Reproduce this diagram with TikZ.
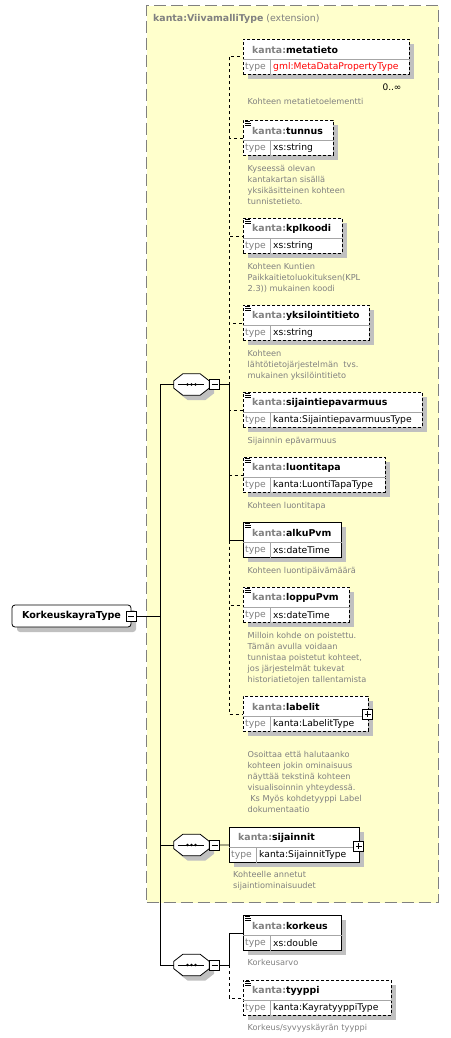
\documentclass[tikz,border=0pt]{standalone}
\usepackage{fontspec}
\setmainfont{DejaVu Sans}
\usetikzlibrary{positioning,shadows}

\definecolor{extfill}{RGB}{255,255,204}
\definecolor{extline}{RGB}{128,128,128}
\definecolor{kantagray}{RGB}{128,128,128}
\definecolor{shadowgray}{RGB}{192,192,192}
\definecolor{typered}{RGB}{255,0,0}

\tikzset{
  boxshadow/.style={drop shadow={shadow xshift=5pt, shadow yshift=-5pt, fill=shadowgray, opacity=1}},
  elbox/.style={draw, fill=white, line width=0.8pt, inner sep=0pt, minimum height=35pt, anchor=north west, boxshadow},
  optbox/.style={elbox, dash pattern=on 3pt off 2pt},
  eltitle/.style={anchor=west, inner sep=0pt, font=\fontsize{9.4}{11}\selectfont\bfseries},
  eltype/.style={anchor=west, inner sep=0pt, font=\fontsize{9.2}{11}\selectfont},
  doctext/.style={inner sep=0pt, align=left, text=kantagray, font=\fontsize{8.2}{11}\selectfont},
  rootbox/.style={draw, fill=white, line width=0.8pt, rounded corners=3pt, inner sep=0pt, boxshadow, font=\fontsize{9.6}{11}\selectfont\bfseries},
  seqbox/.style={minimum width=35pt, minimum height=21pt, inner sep=0pt},
  minusbox/.style={draw, fill=white, line width=0.7pt, minimum size=10pt, inner sep=0pt,
    path picture={\draw[black] ([xshift=2pt]path picture bounding box.west) -- ([xshift=-2pt]path picture bounding box.east);}},
  plusbox/.style={draw, fill=white, line width=0.7pt, minimum size=10pt, inner sep=0pt,
    path picture={
      \draw[black] ([xshift=2pt]path picture bounding box.west) -- ([xshift=-2pt]path picture bounding box.east);
      \draw[black] ([yshift=-2pt]path picture bounding box.north) -- ([yshift=2pt]path picture bounding box.south);
    }},
  optline/.style={dash pattern=on 3pt off 3pt},
  extframe/.style={draw=extline, fill=extfill, line width=1.2pt, dash pattern=on 12pt off 5pt, inner sep=0pt}
}

% header and type row of one element box
\newcommand{\elparts}[3]{%
  \draw[kantagray!70, line width=0.6pt] ([yshift=-20pt]#1.north west) -- ([yshift=-20pt]#1.north east);
  \draw[kantagray!70, line width=0.6pt] ([xshift=27pt,yshift=-20pt]#1.north west) -- ([xshift=27pt]#1.south west);
  \node[eltitle] at ([xshift=9pt,yshift=-10.5pt]#1.north west) {\textcolor{kantagray}{kanta:}#2};
  \node[eltype, text=kantagray] at ([xshift=2pt,yshift=-28pt]#1.north west) {type};
  \node[eltype] at ([xshift=30pt,yshift=-28pt]#1.north west) {#3};
}
% simple content mark
\newcommand{\docmark}[1]{%
  \draw[line width=0.6pt] ([xshift=2pt,yshift=-1.5pt]#1.north west) -- ++(5,0);
  \draw[line width=0.6pt] ([xshift=2pt,yshift=-3.5pt]#1.north west) -- ++(6,0);
  \draw[line width=0.6pt] ([xshift=2pt,yshift=-5.5pt]#1.north west) -- ++(6,0);
}
% octagon of a sequence compositor
\newcommand{\seqpath}[1]{([xshift=9pt]#1.north west) -- ([xshift=-9pt]#1.north east) -- ([yshift=-7pt]#1.north east) -- ([yshift=7pt]#1.south east) -- ([xshift=-9pt]#1.south east) -- ([xshift=9pt]#1.south west) -- ([yshift=7pt]#1.south west) -- ([yshift=-7pt]#1.north west) -- cycle}
\newcommand{\seqmark}[1]{%
  \begin{scope}[transform canvas={shift={(5pt,-5pt)}}]
    \fill[shadowgray] \seqpath{#1};
  \end{scope}
  \filldraw[fill=white, line width=0.8pt] \seqpath{#1};
  \draw[line width=0.8pt] ([xshift=4pt]#1.west) -- ([xshift=-5pt]#1.east);
  \foreach \d in {-4,0,4} \fill ([xshift=\d pt]#1.center) circle (1.4pt);
}

\begin{document}
\begin{tikzpicture}[x=1pt, y=-1pt]
\useasboundingbox (0,0) rectangle (450,1038);

% extension
\node[extframe, minimum width=292pt, minimum height=897pt, anchor=north west] (ext) at (146,5) {};
\node[anchor=west, inner sep=0pt, text=kantagray, font=\fontsize{9.4}{11}\selectfont] (extlabel) at (153,19) {\textbf{kanta:ViivamalliType} (extension)};

% root
\node[rootbox, minimum width=119pt, minimum height=22pt] (root) at (71.5,616) {KorkeuskayraType};
\node[minusbox] (rootm) at (root.east) {};

% sequences
\node[seqbox] (seq1) at (191.5,384.5) {};
\seqmark{seq1}
\node[minusbox, right=0pt of seq1] (seq1m) {};
\node[seqbox] (seq2) at (191.5,845) {};
\seqmark{seq2}
\node[minusbox, right=0pt of seq2] (seq2m) {};
\node[seqbox] (seq3) at (191.5,965) {};
\seqmark{seq3}
\node[minusbox, right=0pt of seq3] (seq3m) {};

% first sequence
\node[optbox, minimum width=166pt] (metatieto) at (243,39) {};
\elparts{metatieto}{metatieto}{\textcolor{typered}{gml:MetaDataPropertyType}}
\node[inner sep=0pt, font=\fontsize{9}{11}\selectfont] (metamult) at (392,87) {0..∞};
\node[doctext, below right=23pt and 4.5pt of metatieto.south west] (metatietodoc) {Kohteen metatietoelementti};

\node[optbox, minimum width=90pt] (tunnus) at (243,120) {};
\elparts{tunnus}{tunnus}{xs:string}
\docmark{tunnus}
\node[doctext, below right=9pt and 4.5pt of tunnus.south west] (tunnusdoc) {Kyseessä olevan\\kantakartan sisällä\\yksikäsitteinen kohteen\\tunnistetieto.};

\node[optbox, minimum width=99pt] (kplkoodi) at (243,218) {};
\elparts{kplkoodi}{kplkoodi}{xs:string}
\docmark{kplkoodi}
\node[doctext, below right=9pt and 4.5pt of kplkoodi.south west] (kplkoodidoc) {Kohteen Kuntien\\Paikkaitietoluokituksen(KPL\\2.3)) mukainen koodi};

\node[optbox, minimum width=126pt] (yksilointitieto) at (243,305) {};
\elparts{yksilointitieto}{yksilointitieto}{xs:string}
\docmark{yksilointitieto}
\node[doctext, below right=9pt and 4.5pt of yksilointitieto.south west] (yksilointitietodoc) {Kohteen\\lähtötietojärjestelmän\ \ tvs.\\mukainen yksilöintitieto};

\node[optbox, minimum width=179pt] (sijaintiepavarmuus) at (243,392) {};
\elparts{sijaintiepavarmuus}{sijaintiepavarmuus}{kanta:SijaintiepavarmuusType}
\docmark{sijaintiepavarmuus}
\node[doctext, below right=9pt and 4.5pt of sijaintiepavarmuus.south west] (sijaintiepavarmuusdoc) {Sijainnin epävarmuus};

\node[optbox, minimum width=142pt] (luontitapa) at (243,457) {};
\elparts{luontitapa}{luontitapa}{kanta:LuontiTapaType}
\docmark{luontitapa}
\node[doctext, below right=9pt and 4.5pt of luontitapa.south west] (luontitapadoc) {Kohteen luontitapa};

\node[elbox, minimum width=98pt] (alkuPvm) at (243,522) {};
\elparts{alkuPvm}{alkuPvm}{xs:dateTime}
\docmark{alkuPvm}
\node[doctext, below right=9pt and 4.5pt of alkuPvm.south west] (alkuPvmdoc) {Kohteen luontipäivämäärä};

\node[optbox, minimum width=106pt] (loppuPvm) at (243,587) {};
\elparts{loppuPvm}{loppuPvm}{xs:dateTime}
\docmark{loppuPvm}
\node[doctext, below right=9pt and 4.5pt of loppuPvm.south west] (loppuPvmdoc) {Milloin kohde on poistettu.\\Tämän avulla voidaan\\tunnistaa poistetut kohteet,\\jos järjestelmät tukevat\\historiatietojen tallentamista};

\node[optbox, minimum width=125pt] (labelit) at (243,696) {};
\elparts{labelit}{labelit}{kanta:LabelitType}
\node[plusbox] (labelitplus) at ([xshift=-1pt,yshift=-18pt]labelit.north east) {};
\node[doctext, below right=19pt and 4.5pt of labelit.south west] (labelitdoc) {Osoittaa että halutaanko\\kohteen jokin ominaisuus\\näyttää tekstinä kohteen\\visualisoinnin yhteydessä.\\\ Ks Myös kohdetyyppi Label\\dokumentaatio};

% second sequence
\node[elbox, minimum width=130pt] (sijainnit) at (229,827) {};
\elparts{sijainnit}{sijainnit}{kanta:SijainnitType}
\node[plusbox] (sijainnitplus) at ([xshift=-1pt,yshift=-19pt]sijainnit.north east) {};
\node[doctext, below right=8pt and 4pt of sijainnit.south west] (sijainnitdoc) {Kohteelle annetut\\sijaintiominaisuudet};

% third sequence
\node[elbox, minimum width=98pt] (korkeus) at (243,915) {};
\elparts{korkeus}{korkeus}{xs:double}
\docmark{korkeus}
\node[doctext, below right=8pt and 4.5pt of korkeus.south west] (korkeusdoc) {Korkeusarvo};

\node[optbox, minimum width=148pt] (tyyppi) at (243,980) {};
\elparts{tyyppi}{tyyppi}{kanta:KayratyyppiType}
\docmark{tyyppi}
\node[doctext, below right=8pt and 4.5pt of tyyppi.south west] (tyyppidoc) {Korkeus/syvyyskäyrän tyyppi};

% connectors
\draw[line width=0.8pt] (rootm.east) -- ++(24,0) coordinate (rootbus);
\draw[line width=0.8pt] (rootbus) |- (seq1.west);
\draw[line width=0.8pt] (rootbus) |- (seq2.west);
\draw[line width=0.8pt] (rootbus) |- (seq3.west);

\draw[line width=0.8pt] (seq1m.east) -- ++(9,0) coordinate (seq1bus);
\foreach \el in {metatieto,tunnus,kplkoodi,yksilointitieto,sijaintiepavarmuus,luontitapa,loppuPvm,labelit}
  \draw[line width=0.8pt, optline] (seq1bus) |- (\el.west);
\draw[line width=0.8pt] (seq1bus) |- (alkuPvm.west);

\draw[line width=0.8pt] (seq2m.east) -- (sijainnit.west);

\draw[line width=0.8pt] (seq3m.east) -- ++(9,0) coordinate (seq3bus);
\draw[line width=0.8pt] (seq3bus) |- (korkeus.west);
\draw[line width=0.8pt, optline] (seq3bus) |- (tyyppi.west);
\end{tikzpicture}
\end{document}
